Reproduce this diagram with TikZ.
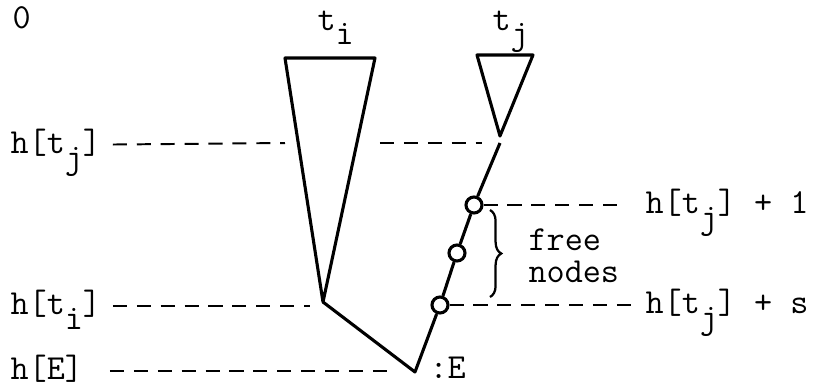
\documentclass[tikz,border=0pt]{standalone}
\usepackage{fontspec}
\usetikzlibrary{decorations.pathreplacing}

\newcommand{\lowsub}[1]{\raisebox{-0.42em}{#1}}

\begin{document}
\begin{tikzpicture}[x=0.0125cm, y=-0.0125cm,
    lbl/.style={font=\fontsize{12.5}{15}\selectfont\ttfamily, inner sep=0pt, text height=0.6em, text depth=0pt},
    level/.style={line width=0.7pt, dash pattern=on 5pt off 3.5pt},
    treeline/.style={line width=1.1pt, line join=round},
    freenode/.style={circle, draw, line width=1.1pt, fill=white, inner sep=0pt, minimum size=0.2cm}]
		\useasboundingbox (0,0) rectangle (819,384);

		% Draw the two trees
		\coordinate (tiL) at (285,58);
		\coordinate (tiR) at (375,58);
		\coordinate (tiB) at (323,302);
		\coordinate (tjL) at (477,55);
		\coordinate (tjR) at (533,55);
		\coordinate (tjB) at (500,136);
		\draw[treeline] (tiL) -- (tiR) -- (tiB) -- cycle;
		\draw[treeline] (tjL) -- (tjR) -- (tjB) -- cycle;

		% Path down to E with the free nodes
		\coordinate (tjS) at (500,143);
		\coordinate (E) at (415,372);
		\node[freenode] (c1) at (474,205) {};
		\node[freenode] (c2) at (457,253) {};
		\node[freenode] (c3) at (440,305) {};
		\draw[treeline] (tiB) -- (E) -- (c3) -- (c2) -- (c1) -- (tjS);

		% Add labels
		\node[lbl, anchor=base west] (zero) at (12,28) {0};
		\node[lbl, anchor=base west] (ti) at (317,30) {t\lowsub{i}};
		\node[lbl, anchor=base west] (tj) at (492,30) {t\lowsub{j}};
		\node[lbl, anchor=west] (hj) at (10,145) {h[t\lowsub{j}]};
		\node[lbl, anchor=west] (hi) at (10,306) {h[t\lowsub{i}]};
		\node[lbl, anchor=west] (hE) at (10,371) {h[E]};
		\node[lbl, anchor=base west] (Elbl) at (429,378) {:E};
		\node[lbl, anchor=west] (l1) at (645,205) {h[t\lowsub{j}] + 1};
		\node[lbl, anchor=west] (ls) at (645,305) {h[t\lowsub{j}] + s};

		% Draw the dashed height lines
		\coordinate (hjL) at (285,143);
		\coordinate (hjM) at (380,143);
		\coordinate (hjR) at (482,143);
		\coordinate (hiR) at (310,306);
		\coordinate (hER) at (392,371);
		\draw[level, shorten <=0.14cm] (hj) -- (hjL);
		\draw[level] (hjM) -- (hjR);
		\draw[level, shorten <=0.14cm] (hi) -- (hiR);
		\draw[level, shorten <=0.33cm] (hE) -- (hER);
		\draw[level, shorten >=0.31cm] (c1) -- (l1);
		\draw[level, shorten >=0.12cm] (c3) -- (ls);

		% Brace for the free nodes
		\coordinate (brT) at (490,210);
		\coordinate (brB) at (490,297);
		\draw[line width=0.8pt, decorate, decoration={brace, amplitude=4pt}] (brT) -- (brB);
		\node[font=\fontsize{12.5}{11.5}\selectfont\ttfamily, inner sep=0pt, align=left, anchor=west] (freetxt) at (528,256) {free\\nodes};
	\end{tikzpicture}
\end{document}
